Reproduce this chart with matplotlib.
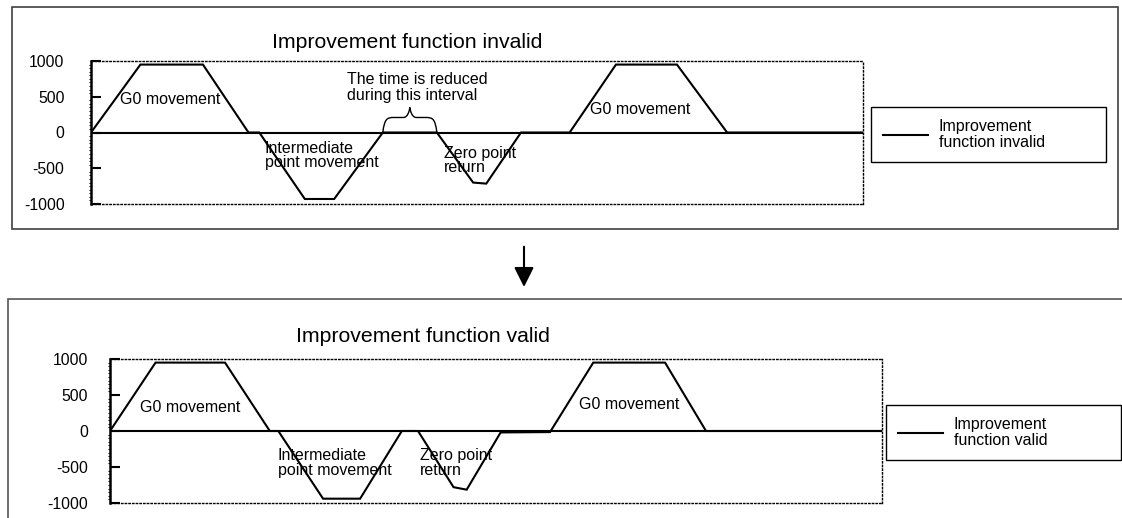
import matplotlib
matplotlib.use("Agg")
import matplotlib.pyplot as plt
from matplotlib.path import Path
from matplotlib.patches import PathPatch, Rectangle, FancyArrowPatch
from matplotlib.ticker import MultipleLocator

plt.rcParams['font.family'] = ['Liberation Sans', 'DejaVu Sans']

# time axis is arbitrary (0..100)
inv_t = [0, 6.4, 14.5, 20.4, 21.8, 27.7, 31.5, 37.8, 44.8, 49.5, 51.2, 55.7, 62.0, 68.0, 75.9, 82.4, 100]
inv_v = [0, 950, 950, 0, 0, -930, -930, 0, 0, -700, -715, 0, 0, 950, 950, 0, 0]

val_t = [0, 5.9, 14.9, 20.7, 21.8, 27.6, 32.4, 37.8, 39.9, 44.5, 46.2, 50.6, 57.0, 62.6, 71.9, 77.2, 100]
val_v = [0, 950, 950, 0, 0, -940, -940, 0, 0, -780, -815, -20, -15, 950, 950, 0, 0]

yticks = [-1000, -500, 0, 500, 1000]

inv_title = "Improvement function invalid"
val_title = "Improvement function valid"
inv_label = "Improvement\nfunction invalid"
val_label = "Improvement\nfunction valid"

notes = ["G0 movement", "Intermediate\npoint movement", "Zero point\nreturn", "G0 movement"]
inv_note_xy = [(3.8, 460), (22.5, -320), (45.7, -390), (64.7, 320)]
val_note_xy = [(3.9, 326), (21.7, -446), (40.1, -446), (60.7, 372)]
brace_note = "The time is reduced\nduring this interval"

W, H = 1122, 518
FS = 11.5


def px(x, y):
    return x / W, 1 - y / H


def draw_panel(ax, t, v, label, note_xy, tickpad, legend_box):
    ax.plot(t, v, color='black', lw=1.5, label=label, solid_joinstyle='miter')
    ax.axhline(0, color='black', lw=1.5)
    ax.set_xlim(t[0], t[-1])
    ax.set_ylim(-1000, 1000)
    ax.set_yticks(yticks)
    ax.set_yticklabels([str(y) for y in yticks])
    ax.yaxis.set_minor_locator(MultipleLocator(50))
    ax.tick_params(axis='y', which='major', direction='in', length=7, width=1.5,
                   pad=tickpad, labelsize=11.3)
    ax.tick_params(axis='y', which='minor', direction='out', length=1.2, width=0.7)
    ax.set_xticks([])
    ax.spines['left'].set_linewidth(1.8)
    for s in ['top', 'right', 'bottom']:
        ax.spines[s].set_linestyle(':')
        ax.spines[s].set_linewidth(1.0)
    for txt, (x, y) in zip(notes, note_xy):
        ax.text(x, y, txt, fontsize=FS, ha='left', va='center', linespacing=0.95)
    leg = ax.legend(loc='center left', bbox_to_anchor=legend_box, mode='expand',
                    bbox_transform=ax.figure.transFigure, borderaxespad=0,
                    fancybox=False, framealpha=1, edgecolor='black', fontsize=FS,
                    handlelength=2.8, handletextpad=0.7, borderpad=0.75)
    leg.get_frame().set_linewidth(1.0)
    for tx in leg.get_texts():
        tx.set_linespacing(1.1)


def draw_brace(ax, x0, x1, y0, h):
    xm = (x0 + x1) / 2
    w = x1 - x0
    ys = y0 + 0.6 * h
    verts = [(x0, y0),
             (x0 + 0.03 * w, ys - 0.05 * h), (x0 + 0.08 * w, ys), (x0 + 0.2 * w, ys),
             (xm - 0.12 * w, ys),
             (xm - 0.04 * w, ys), (xm - 0.01 * w, y0 + 0.85 * h), (xm, y0 + h),
             (xm + 0.01 * w, y0 + 0.85 * h), (xm + 0.04 * w, ys), (xm + 0.12 * w, ys),
             (x1 - 0.2 * w, ys),
             (x1 - 0.08 * w, ys), (x1 - 0.03 * w, ys - 0.05 * h), (x1, y0)]
    codes = [Path.MOVETO,
             Path.CURVE4, Path.CURVE4, Path.CURVE4,
             Path.LINETO,
             Path.CURVE4, Path.CURVE4, Path.CURVE4,
             Path.CURVE4, Path.CURVE4, Path.CURVE4,
             Path.LINETO,
             Path.CURVE4, Path.CURVE4, Path.CURVE4]
    ax.add_patch(PathPatch(Path(verts, codes), fill=False, lw=1.0, color='black'))


fig = plt.figure(figsize=(W / 100, H / 100), dpi=100)

# outer frames
x0, y0 = px(11.7, 229.3)
fig.add_artist(Rectangle((x0, y0), (1117.7 - 11.7) / W, (229.3 - 7.3) / H,
                         transform=fig.transFigure, fill=False, ec='#404040', lw=1.2))
x0, y0 = px(7.5, 299)
fig.add_artist(Rectangle((x0, -0.1), 1.2, y0 + 0.1,
                         transform=fig.transFigure, fill=False, ec='#555555', lw=1.2))

ax1 = fig.add_axes([91 / W, 1 - 204 / H, 772 / W, 143 / H])
draw_panel(ax1, inv_t, inv_v, inv_label, inv_note_xy, 19,
           (871 / W, 1 - 134.5 / H, 235 / W, 0))
draw_brace(ax1, inv_t[7], inv_t[8], 0, 350)
ax1.text(33.1, 630, brace_note, fontsize=FS, ha='left', va='center', linespacing=1.1)
fig.text(*px(272, 43), inv_title, fontsize=15.3, ha='left', va='center')

ax2 = fig.add_axes([110 / W, 1 - 503 / H, 772 / W, 144 / H])
draw_panel(ax2, val_t, val_v, val_label, val_note_xy, 16,
           (886 / W, 1 - 432.5 / H, 235 / W, 0))
fig.text(*px(296, 336.7), val_title, fontsize=15.3, ha='left', va='center')

# arrow between the two charts
fig.add_artist(FancyArrowPatch(px(524, 246.7), px(524, 287), transform=fig.transFigure,
                               arrowstyle='-|>,head_length=0.6,head_width=0.3',
                               mutation_scale=20, lw=1.5, color='black',
                               shrinkA=0, shrinkB=0))

fig.savefig("out.png", dpi=100)
